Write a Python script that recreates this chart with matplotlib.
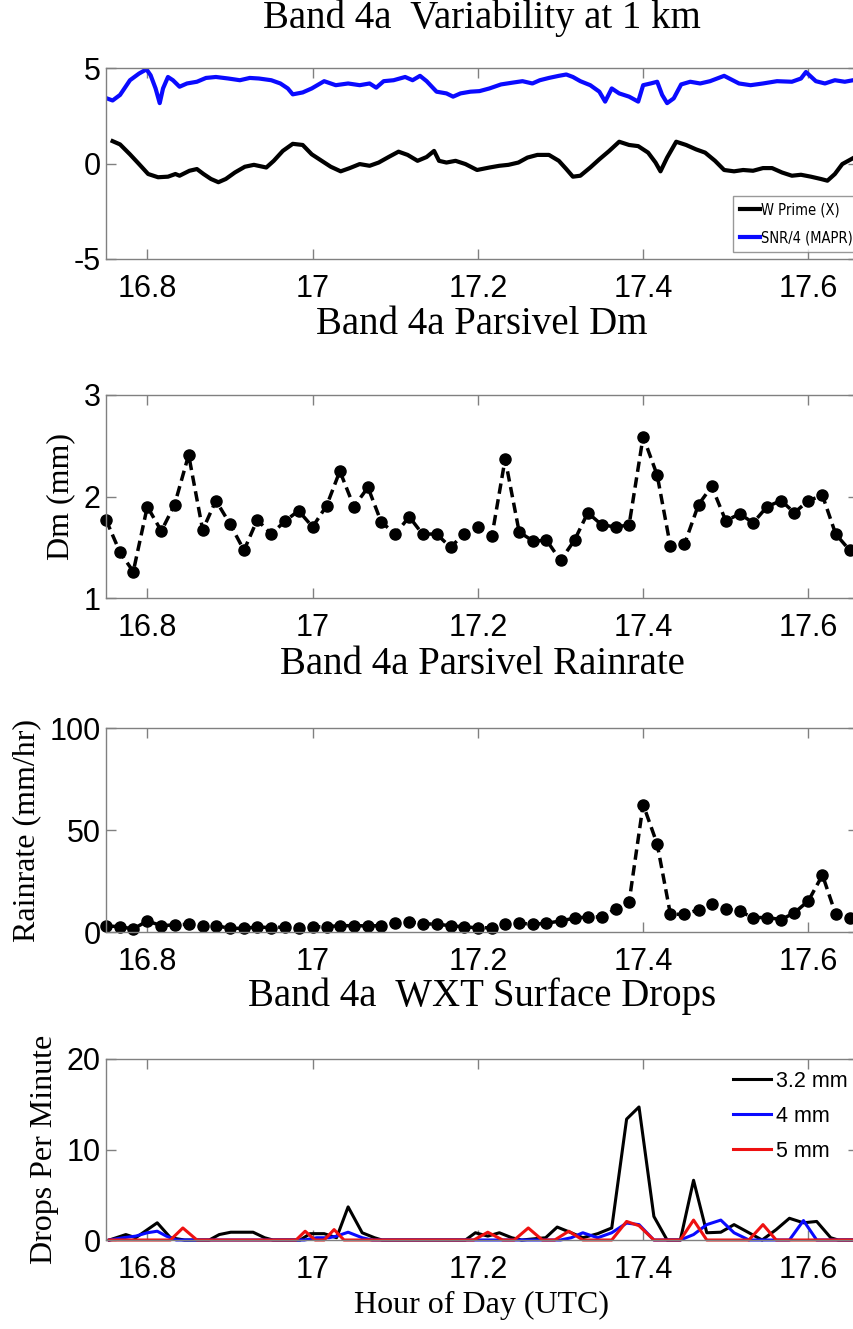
# Band 4a time series: radar variability, Parsivel Dm / rain rate, WXT drop counts
import matplotlib
matplotlib.use("Agg")
import matplotlib.pyplot as plt
from matplotlib import font_manager
from matplotlib.font_manager import FontProperties

W, H = 854, 1329

# --- W' (X band) and SNR/4 (MAPR) at 1 km ---
t_wprime = [16.758, 16.767, 16.779, 16.790, 16.801, 16.813, 16.825, 16.834, 16.839, 16.851,
            16.860, 16.868, 16.877, 16.886, 16.895, 16.906, 16.918, 16.929, 16.944, 16.953,
            16.964, 16.976, 16.988, 16.999, 17.011, 17.022, 17.034, 17.045, 17.057, 17.069,
            17.080, 17.092, 17.104, 17.115, 17.127, 17.138, 17.147, 17.153, 17.162, 17.173,
            17.185, 17.199, 17.214, 17.226, 17.237, 17.249, 17.260, 17.272, 17.286, 17.298,
            17.307, 17.315, 17.324, 17.336, 17.347, 17.359, 17.371, 17.383, 17.394, 17.406,
            17.415, 17.421, 17.429, 17.440, 17.452, 17.464, 17.475, 17.487, 17.498, 17.510,
            17.521, 17.533, 17.545, 17.556, 17.568, 17.580, 17.591, 17.603, 17.615, 17.623,
            17.632, 17.641, 17.654]
wprime = [1.17, 1.00, 0.48, -0.03, -0.55, -0.72, -0.69, -0.55, -0.64, -0.38,
          -0.29, -0.55, -0.81, -0.98, -0.81, -0.47, -0.17, -0.07, -0.21, 0.14,
          0.66, 1.03, 0.97, 0.48, 0.14, -0.17, -0.41, -0.24, -0.03, -0.12,
          0.05, 0.34, 0.62, 0.45, 0.14, 0.34, 0.66, 0.14, 0.05, 0.14,
          -0.03, -0.34, -0.21, -0.12, -0.07, 0.05, 0.31, 0.45, 0.45, 0.14,
          -0.29, -0.69, -0.64, -0.21, 0.22, 0.66, 1.14, 0.97, 0.91, 0.57,
          0.05, -0.41, 0.31, 1.14, 0.97, 0.74, 0.57, 0.14, -0.34, -0.41,
          -0.34, -0.38, -0.24, -0.24, -0.47, -0.64, -0.59, -0.69, -0.81, -0.90,
          -0.55, -0.03, 0.28]

t_snr = [16.751, 16.758, 16.767, 16.779, 16.790, 16.799, 16.804, 16.810, 16.815, 16.819,
         16.825, 16.831, 16.839, 16.848, 16.860, 16.871, 16.883, 16.898, 16.912, 16.924,
         16.935, 16.950, 16.961, 16.970, 16.976, 16.988, 16.999, 17.014, 17.028, 17.043,
         17.057, 17.069, 17.077, 17.086, 17.098, 17.112, 17.121, 17.130, 17.138, 17.150,
         17.162, 17.170, 17.179, 17.191, 17.202, 17.214, 17.228, 17.243, 17.254, 17.266,
         17.275, 17.286, 17.298, 17.307, 17.315, 17.324, 17.336, 17.347, 17.354, 17.362,
         17.371, 17.383, 17.394, 17.400, 17.409, 17.417, 17.423, 17.429, 17.437, 17.446,
         17.457, 17.469, 17.481, 17.498, 17.516, 17.530, 17.545, 17.562, 17.580, 17.591,
         17.597, 17.609, 17.620, 17.632, 17.644, 17.654]
snr4 = [3.41, 3.30, 3.59, 4.36, 4.71, 4.93, 4.62, 3.93, 3.16, 3.93,
        4.53, 4.36, 4.02, 4.19, 4.28, 4.48, 4.53, 4.45, 4.36, 4.48,
        4.45, 4.36, 4.19, 3.93, 3.62, 3.72, 3.93, 4.31, 4.10, 4.19,
        4.10, 4.19, 3.97, 4.31, 4.36, 4.53, 4.36, 4.59, 4.31, 3.76,
        3.67, 3.50, 3.67, 3.76, 3.79, 3.93, 4.14, 4.24, 4.31, 4.19,
        4.36, 4.48, 4.59, 4.66, 4.53, 4.31, 4.10, 3.76, 3.24, 3.93,
        3.67, 3.50, 3.24, 4.10, 4.19, 4.28, 3.59, 3.16, 3.41, 4.14,
        4.28, 4.19, 4.31, 4.59, 4.19, 4.10, 4.19, 4.31, 4.28, 4.45,
        4.79, 4.31, 4.19, 4.36, 4.28, 4.36]

# --- Parsivel, one value per minute ---
t_parsivel = [16.750, 16.767, 16.783, 16.800, 16.817, 16.833, 16.850, 16.867, 16.883, 16.900,
              16.917, 16.933, 16.950, 16.967, 16.983, 17.000, 17.017, 17.033, 17.050, 17.067,
              17.083, 17.100, 17.117, 17.133, 17.150, 17.167, 17.183, 17.200, 17.217, 17.233,
              17.250, 17.267, 17.283, 17.300, 17.317, 17.333, 17.350, 17.367, 17.383, 17.400,
              17.417, 17.433, 17.450, 17.467, 17.483, 17.500, 17.517, 17.533, 17.550, 17.567,
              17.583, 17.600, 17.617, 17.633, 17.650]
dm = [1.77, 1.45, 1.26, 1.90, 1.66, 1.92, 2.41, 1.67, 1.96, 1.73,
      1.47, 1.77, 1.63, 1.76, 1.86, 1.70, 1.91, 2.25, 1.90, 2.09,
      1.75, 1.63, 1.80, 1.63, 1.63, 1.50, 1.63, 1.70, 1.61, 2.37,
      1.65, 1.56, 1.57, 1.37, 1.57, 1.84, 1.72, 1.70, 1.72, 2.59,
      2.21, 1.51, 1.53, 1.92, 2.10, 1.76, 1.83, 1.74, 1.90, 1.96,
      1.84, 1.96, 2.01, 1.63, 1.47]
rainrate = [3.0, 2.6, 1.5, 5.4, 3.1, 3.5, 3.8, 3.0, 3.1, 1.8,
            1.8, 2.5, 2.1, 2.5, 2.1, 2.5, 2.6, 3.1, 3.1, 3.0,
            3.1, 4.3, 5.1, 4.1, 3.8, 3.1, 2.5, 2.1, 2.1, 3.8,
            4.3, 3.8, 4.3, 5.4, 6.8, 7.4, 7.4, 11.4, 14.7, 62.5,
            43.1, 8.7, 8.7, 10.9, 13.7, 11.4, 10.1, 7.1, 7.1, 6.1,
            9.4, 15.3, 27.9, 8.7, 6.8]

# --- WXT surface drop counts ---
t_d32 = [16.754, 16.774, 16.786, 16.812, 16.828, 16.845, 16.875, 16.887, 16.901, 16.928,
         16.942, 16.952, 16.985, 16.997, 17.014, 17.029, 17.043, 17.060, 17.075, 17.084,
         17.185, 17.197, 17.212, 17.226, 17.241, 17.253, 17.282, 17.296, 17.313, 17.327,
         17.345, 17.362, 17.380, 17.395, 17.413, 17.429, 17.445, 17.461, 17.477, 17.494,
         17.510, 17.528, 17.544, 17.561, 17.577, 17.594, 17.610, 17.627, 17.636, 17.660]
d32 = [0, 0.6, 0.25, 1.9, 0.25, 0, 0, 0.6, 0.86, 0.86,
       0.25, 0, 0, 0.7, 0.7, 0.25, 3.66, 0.8, 0.25, 0,
       0, 0.8, 0.43, 0.8, 0.25, 0, 0.25, 1.43, 0.8, 0.25,
       0.7, 1.33, 13.36, 14.7, 2.6, 0, 0, 6.6, 0.8, 0.86,
       1.7, 0.8, 0, 1.15, 2.4, 1.9, 2.05, 0.25, 0, 0]

t_d4 = [16.754, 16.771, 16.786, 16.800, 16.812, 16.823, 16.835, 16.990, 17.005, 17.020,
        17.029, 17.043, 17.060, 17.072, 17.300, 17.313, 17.327, 17.345, 17.362, 17.380,
        17.395, 17.413, 17.445, 17.461, 17.477, 17.494, 17.510, 17.528, 17.577, 17.594,
        17.610, 17.660]
d4 = [0, 0.25, 0.43, 0.8, 0.97, 0.43, 0, 0, 0.25, 0.25,
      0.43, 0.86, 0.25, 0, 0, 0.25, 0.8, 0.25, 0.8, 1.87,
      1.7, 0, 0, 0.6, 1.7, 2.2, 0.8, 0, 0, 2.15,
      0, 0]

t_d5 = [16.754, 16.828, 16.843, 16.860, 16.980, 16.991, 17.003, 17.014, 17.026, 17.038,
        17.195, 17.212, 17.230, 17.244, 17.261, 17.278, 17.293, 17.310, 17.327, 17.362,
        17.380, 17.395, 17.413, 17.445, 17.461, 17.477, 17.528, 17.545, 17.561, 17.660]
d5 = [0, 0, 1.33, 0, 0, 0.97, 0, 0, 1.15, 0,
      0, 0.86, 0, 0, 1.33, 0, 0, 0.97, 0, 0,
      2.05, 1.58, 0, 0, 2.2, 0, 0, 1.7, 0, 0]

xticks = [16.8, 17.0, 17.2, 17.4, 17.6]
xticklabels = ['16.8', '17', '17.2', '17.4', '17.6']

plt.rcParams['font.family'] = 'Liberation Sans'
plt.rcParams['axes.unicode_minus'] = False
SERIF = 'Liberation Serif'
GREY = '#808080'

# narrow face for the small legend; plain Liberation Sans at a smaller size otherwise
narrow = FontProperties(family='DejaVu Sans', stretch='condensed', size=10.5)
if 'Condensed' not in font_manager.findfont(narrow):
    narrow = FontProperties(family='Liberation Sans', size=9.5)


def px_box(top, bottom, left=106, right=858):
    return [left / W, 1 - bottom / H, (right - left) / W, (bottom - top) / H]


def style(ax, ylim, yticks):
    ax.set_xlim(16.75, 17.66)
    ax.set_ylim(*ylim)
    ax.set_xticks(xticks)
    ax.set_xticklabels(xticklabels)
    ax.set_yticks(yticks)
    ax.tick_params(direction='in', length=7, width=1, color=GREY, labelsize=22,
                   top=True, right=True)
    ax.tick_params(axis='x', pad=11)
    ax.tick_params(axis='y', pad=4)
    for s in ax.spines.values():
        s.set_color(GREY)
        s.set_linewidth(1)


def title(y, text):
    fig.text(482 / W, 1 - y / H, text, family=SERIF, fontsize=28,
             ha='center', va='center')


fig = plt.figure(figsize=(W / 100, H / 100), dpi=100)

# panel 1
ax1 = fig.add_axes(px_box(68, 259))
ax1.plot(t_wprime, wprime, color='black', lw=3, label='W Prime (X)')
ax1.plot(t_snr, snr4, color='#0a0aff', lw=3, label='SNR/4 (MAPR)')
style(ax1, (-5, 5), [-5, 0, 5])
leg = ax1.legend(loc='lower left', bbox_to_anchor=((733 - 106) / 752, (259 - 252) / 191),
                 prop=narrow, handlelength=1.4, handletextpad=0.1, borderpad=0.45,
                 labelspacing=0.9, fancybox=False, borderaxespad=0)
leg.get_frame().set_edgecolor(GREY)
leg.get_frame().set_linewidth(1)
title(18, 'Band 4a  Variability at 1 km')

# panel 2
ax2 = fig.add_axes(px_box(395, 598))
ax2.plot(t_parsivel, dm, color='black', lw=2.5, ls=(0, (3, 1.6)), marker='o', ms=8,
         clip_on=False)
style(ax2, (1, 3), [1, 2, 3])
ax2.set_ylabel('Dm (mm)', family=SERIF, fontsize=23, labelpad=6)
title(325, 'Band 4a Parsivel Dm')

# panel 3
ax3 = fig.add_axes(px_box(728, 932))
ax3.plot(t_parsivel, rainrate, color='black', lw=2.5, ls=(0, (3, 1.6)), marker='o', ms=8,
         clip_on=False)
style(ax3, (0, 100), [0, 50, 100])
ax3.set_ylabel('Rainrate (mm/hr)', family=SERIF, fontsize=23, labelpad=6)
title(664, 'Band 4a Parsivel Rainrate')

# panel 4
ax4 = fig.add_axes(px_box(1059, 1240))
ax4.plot(t_d32, d32, color='black', lw=2.2, label='3.2 mm', clip_on=False)
ax4.plot(t_d4, d4, color='#0a0aff', lw=2.2, label='4 mm', clip_on=False)
ax4.plot(t_d5, d5, color='#ee1111', lw=2.2, label='5 mm', clip_on=False)
style(ax4, (0, 20), [0, 10, 20])
ax4.set_ylabel('Drops Per Minute', family=SERIF, fontsize=23, labelpad=5)
ax4.set_xlabel('Hour of Day (UTC)', family=SERIF, fontsize=23, labelpad=4)
ax4.legend(loc='upper left', bbox_to_anchor=((733 - 106) / 752, (1240 - 1071) / 181),
           frameon=False, fontsize=15.5, handlelength=1.75, handletextpad=0.25,
           borderpad=0, labelspacing=0.65, borderaxespad=0)
title(996, 'Band 4a  WXT Surface Drops')

fig.savefig('out.png', dpi=100)
